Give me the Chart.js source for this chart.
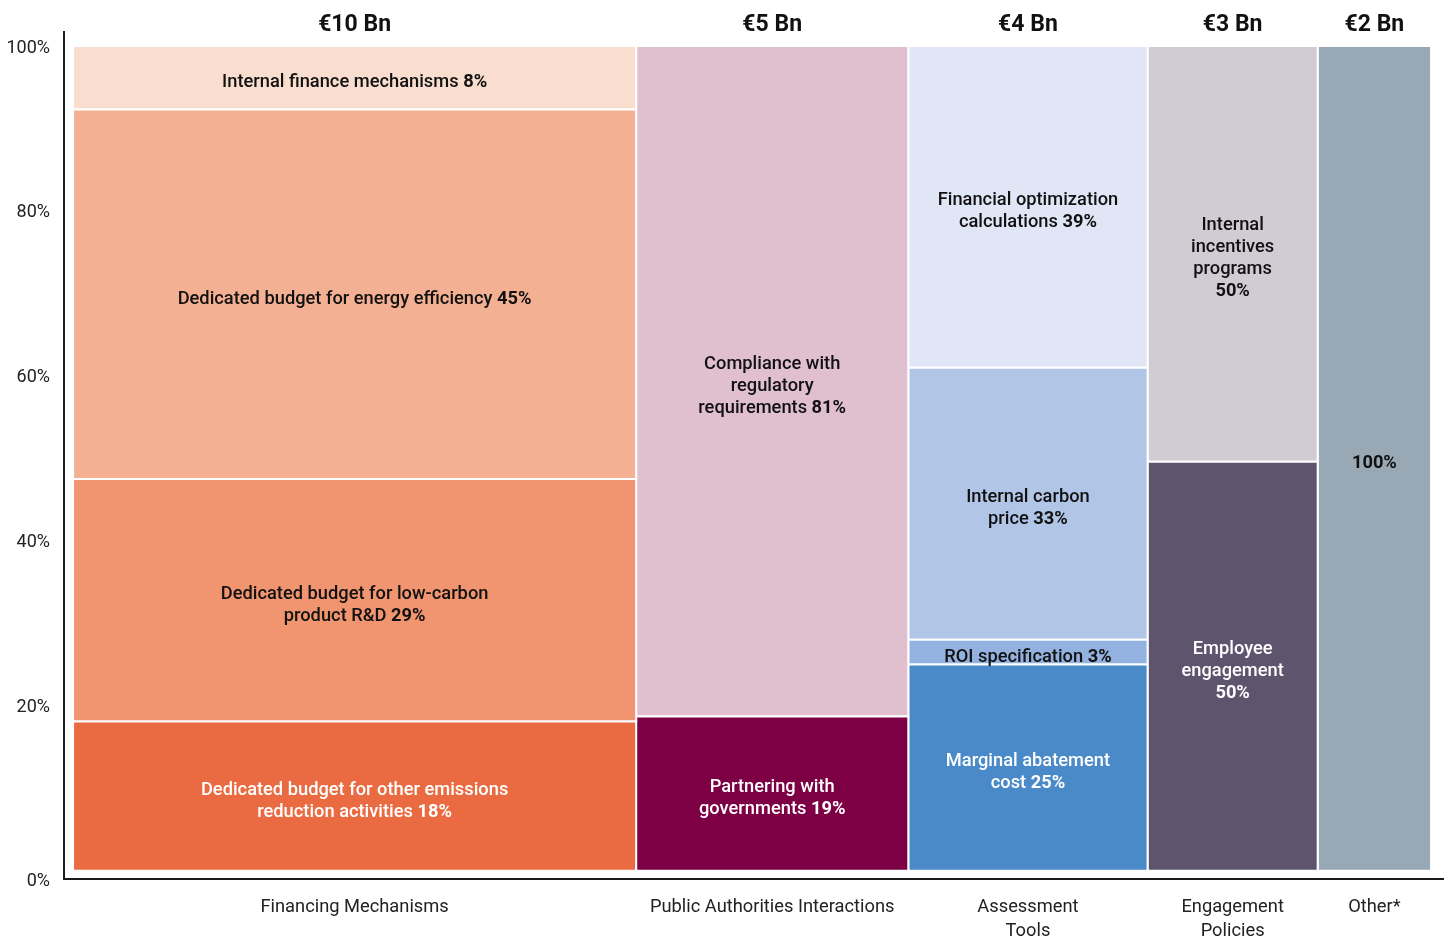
<!DOCTYPE html>
<html><head><meta charset="utf-8">
<script src="https://cdn.jsdelivr.net/npm/chart.js@4/dist/chart.umd.min.js"></script>
<style>html,body{margin:0;padding:0;background:#fff}#wrap{width:1449px;height:938px;position:relative}</style>
</head><body><div id="wrap"><canvas id="c"></canvas></div>
<script>
// ---------- DATA ----------
const categories = ['Financing Mechanisms', 'Public Authorities Interactions', ['Assessment', 'Tools'], ['Engagement', 'Policies'], 'Other*'];
const spendLabels = ['€10 Bn', '€5 Bn', '€4 Bn', '€3 Bn', '€2 Bn'];
const spendWidths = [9.93, 4.8, 4.22, 3.0, 2.0];

// shares from bottom to top (percent; labels show rounded values)
const financingShares = [18.1, 29.4, 44.8, 7.7];
const financingNames = [['Dedicated budget for other emissions', 'reduction activities'], ['Dedicated budget for low-carbon', 'product R&D'], ['Dedicated budget for energy efficiency'], ['Internal finance mechanisms']];

const publicShares = [18.7, 81.3];
const publicNames = [['Partnering with', 'governments'], ['Compliance with', 'regulatory', 'requirements']];

const assessmentShares = [25, 3, 33, 39];
const assessmentNames = [['Marginal abatement', 'cost'], ['ROI specification'], ['Internal carbon', 'price'], ['Financial optimization', 'calculations']];

const engagementShares = [49.6, 50.4];
const engagementNames = [['Employee', 'engagement', ''], ['Internal', 'incentives', 'programs', '']];

const otherShares = [100];
const otherNames = [['']];

const yTickValues = [0, 20, 40, 60, 80, 100];
const yTickLabels = ['0%', '20%', '40%', '60%', '80%', '100%'];

// ---------- STYLES ----------
const financingColors = ['#EA6B42', '#F0956F', '#F4B092', '#F9DDCF'];
const publicColors = ['#7D0045', '#E0BFCE'];
const assessmentColors = ['#4A8AC8', '#93B2DF', '#B1C6E7', '#E0E6F5'];
const engagementColors = ['#5E546D', '#D1CBD3'];
const otherColors = ['#98A8B5'];

const columns = [
  {shares: financingShares, names: financingNames, colors: financingColors},
  {shares: publicShares, names: publicNames, colors: publicColors},
  {shares: assessmentShares, names: assessmentNames, colors: assessmentColors},
  {shares: engagementShares, names: engagementNames, colors: engagementColors},
  {shares: otherShares, names: otherNames, colors: otherColors}
];

function isDark(hex) {
  const r = parseInt(hex.slice(1, 3), 16), g = parseInt(hex.slice(3, 5), 16), b = parseInt(hex.slice(5, 7), 16);
  return (0.299 * r + 0.587 * g + 0.114 * b) < 150;
}

const rects = [];
const datasets = [];
const centers = [];
let xStart = 0;
columns.forEach((col, ci) => {
  const xEnd = xStart + spendWidths[ci];
  centers.push((xStart + xEnd) / 2);
  let yStart = 0;
  col.shares.forEach((s, si) => {
    const yEnd = yStart + s;
    rects.push({x0: xStart, x1: xEnd, y0: yStart, y1: yEnd, lines: col.names[si], pct: Math.round(s),
      textColor: isDark(col.colors[si]) ? '#ffffff' : '#111111'});
    datasets.push({
      data: [{x: xStart, y: yStart}, {x: xEnd, y: yStart}, {x: xEnd, y: yEnd}, {x: xStart, y: yEnd}, {x: xStart, y: yStart}],
      showLine: true, fill: 'shape', tension: 0,
      backgroundColor: col.colors[si], borderColor: '#ffffff', borderWidth: 2,
      pointRadius: 0, pointHoverRadius: 0
    });
    yStart = yEnd;
  });
  xStart = xEnd;
});
const xTotal = xStart;

const segLabels = {
  id: 'segLabels',
  afterDatasetsDraw(chart) {
    const {ctx} = chart;
    const x = chart.scales.x, y = chart.scales.y;
    const lh = 22;
    rects.forEach(r => {
      const cx = x.getPixelForValue((r.x0 + r.x1) / 2);
      const cy = (y.getPixelForValue(r.y0) + y.getPixelForValue(r.y1)) / 2 + 5;
      const n = r.lines.length;
      ctx.save();
      ctx.fillStyle = r.textColor;
      ctx.textBaseline = 'middle';
      ctx.textAlign = 'left';
      r.lines.forEach((ln, i) => {
        const ly = cy - (n - 1) * lh / 2 + i * lh;
        const last = i === n - 1;
        const main = last ? (ln ? ln + ' ' : '') : ln;
        const pct = last ? r.pct + '%' : '';
        ctx.font = '500 18.3px Roboto';
        const w1 = ctx.measureText(main).width;
        ctx.font = '700 18.3px Roboto';
        const w2 = ctx.measureText(pct).width;
        const sx = cx - (w1 + w2) / 2;
        ctx.font = '500 18.3px Roboto';
        ctx.fillText(main, sx, ly);
        ctx.font = '700 18.3px Roboto';
        ctx.fillText(pct, sx + w1, ly);
      });
      ctx.restore();
    });
  }
};

new Chart(document.getElementById('c'), {
  type: 'scatter',
  data: {datasets},
  options: {
    responsive: true,
    maintainAspectRatio: false,
    animation: false,
    events: [],
    layout: {padding: {left: 0, right: 6, top: 0, bottom: 0}},
    plugins: {legend: {display: false}, tooltip: {enabled: false}},
    scales: {
      x: {
        type: 'linear', position: 'bottom', min: -0.16, max: xTotal + 0.21,
        grid: {display: false, drawTicks: false},
        border: {display: true, color: '#1a1a1a', width: 2},
        afterBuildTicks: s => { s.ticks = centers.map(v => ({value: v})); },
        afterFit: s => { s.height = 59; },
        ticks: {autoSkip: false, maxRotation: 0, minRotation: 0, padding: 17,
          callback: (v, i) => categories[i],
          font: {family: 'Roboto', size: 18.3, lineHeight: 1.3}, color: '#222'}
      },
      x2: {
        type: 'linear', position: 'top', min: -0.16, max: xTotal + 0.21,
        grid: {display: false, drawTicks: false},
        border: {display: false},
        afterBuildTicks: s => { s.ticks = centers.map(v => ({value: v})); },
        afterFit: s => { s.height = 32; },
        ticks: {autoSkip: false, maxRotation: 0, minRotation: 0, padding: -7,
          callback: (v, i) => spendLabels[i],
          font: {family: 'Roboto', size: 23, weight: 'bold'}, color: '#111'}
      },
      y: {
        type: 'linear', min: -1, max: 101.7,
        grid: {display: false, drawTicks: false},
        border: {display: true, color: '#1a1a1a', width: 2},
        afterBuildTicks: s => { s.ticks = yTickValues.map(v => ({value: v === 0 ? s.min : v})); },
        afterFit: s => { s.width = 64; },
        ticks: {padding: 14, labelOffset: 2, callback: (v, i) => yTickLabels[i],
          font: {family: 'Roboto', size: 18}, color: '#222'}
      }
    }
  },
  plugins: [segLabels]
});
</script></body></html>
